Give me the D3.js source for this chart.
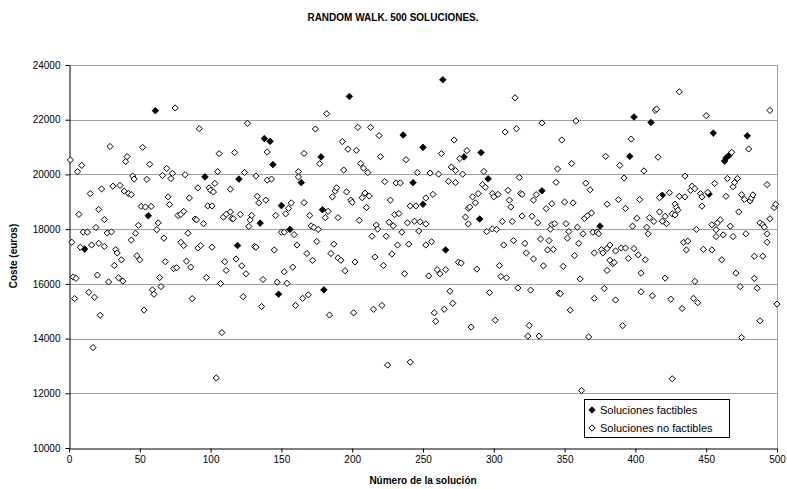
<!DOCTYPE html>
<html>
<head>
<meta charset="utf-8">
<script src="https://cdn.jsdelivr.net/npm/d3@7"></script>
<style>
    body { margin: 0; background: #fff; }
    text { font-family: "Liberation Sans", Arial, sans-serif; }
</style>
</head>
<body>
<svg id="chart" width="787" height="489"></svg>
<script>
// soluciones factibles: [numero de solucion, coste]
var factibles = [
    [11,17270],[56,18490],[61,22330],[96,19910],[119,17400],[120,19830],[135,18220],[138,21310],[142,21210],[144,20360],
    [148,15620],[150,18860],[156,17990],[164,19700],[178,20640],[179,18710],[180,15780],[198,22850],[236,21440],[243,19700],
    [250,20990],[250,18910],[264,23460],[266,17240],[279,20640],[290,18370],[291,20800],[296,19840],[334,19400],[375,18110],
    [396,20660],[399,22100],[411,21900],[419,19240],[452,19280],[455,21510],[463,20490],[464,20600],[466,20690],[479,21410]
];

// soluciones no factibles: [numero de solucion, coste]
var noFactibles = [
    [1,20530],[2,17520],[3,16250],[4,15460],[5,16200],[6,20100],[7,18540],[8,17340],[9,20330],[10,17890],
    [13,17890],[14,15690],[15,19300],[16,17420],[17,13670],[18,15510],[19,18060],[20,16320],[21,18720],[21,17480],
    [22,14850],[23,19470],[25,18350],[25,17370],[27,17860],[28,16070],[29,21020],[30,17900],[31,19570],[32,16670],
    [33,17250],[34,17130],[35,16220],[36,19600],[37,16880],[38,16100],[39,19390],[40,20470],[41,20650],[42,19300],
    [44,19260],[44,17600],[45,19940],[46,19830],[47,17850],[48,17030],[49,18140],[50,16880],[51,18830],[52,20990],
    [53,15040],[54,18810],[55,19820],[57,20370],[58,18830],[59,15780],[60,15620],[62,17980],[63,18230],[64,16230],
    [65,15900],[66,19960],[67,17670],[68,16810],[69,20220],[70,19180],[71,18900],[72,19850],[73,20040],[74,16560],
    [75,22430],[76,16590],[77,18500],[79,18540],[79,17520],[81,18650],[81,17400],[82,19990],[83,16830],[84,17850],
    [85,19140],[86,16610],[87,15460],[89,18370],[90,18340],[91,19510],[91,17310],[92,21670],[93,17400],[95,18200],
    [97,16230],[98,18850],[99,19510],[100,19420],[101,18850],[101,17340],[102,19360],[103,19670],[104,12560],[105,20100],
    [106,20760],[107,16010],[108,14220],[109,18440],[110,16810],[111,18540],[111,16490],[114,19460],[114,18630],[115,18390],
    [116,18380],[117,20800],[118,16910],[121,18540],[122,16660],[123,15530],[124,20070],[125,16370],[126,21870],[127,18100],
    [128,18340],[129,18500],[131,17370],[132,19940],[132,17340],[133,19200],[134,18960],[136,15170],[137,16160],[139,19060],
    [140,20820],[140,19790],[143,19830],[145,17240],[146,18500],[147,16060],[150,17890],[152,17890],[152,16440],[153,18560],
    [154,16020],[155,18760],[157,18960],[158,16610],[159,17800],[160,15210],[161,17420],[162,20100],[162,19910],[165,15470],
    [166,20770],[166,18970],[168,17110],[169,15600],[170,18500],[171,18120],[172,16860],[173,18060],[174,21660],[175,17550],
    [176,17990],[177,20390],[181,18420],[182,22220],[183,18650],[184,14860],[185,17110],[186,19180],[187,17450],[188,19390],
    [189,19510],[190,18420],[190,16950],[192,16860],[193,21200],[194,20160],[195,16480],[196,19360],[197,20920],[199,19060],
    [200,18980],[201,14940],[202,16800],[203,20880],[204,21720],[205,18320],[206,20400],[207,19150],[208,20230],[209,19320],
    [210,18790],[211,20070],[212,19210],[213,21720],[214,17740],[215,15070],[216,16980],[217,18150],[218,18000],[219,21420],
    [220,20650],[221,15210],[222,16670],[223,19740],[224,17740],[225,13030],[226,18250],[227,19060],[228,17090],[229,18120],
    [230,18530],[231,19690],[232,17420],[233,18570],[234,19690],[235,17890],[237,16370],[238,20540],[239,18230],[240,17450],
    [241,18850],[241,13140],[244,18290],[245,18850],[246,20070],[247,17930],[248,18270],[252,19140],[252,18190],[252,17420],
    [254,16290],[255,20050],[256,17540],[257,19270],[258,14940],[259,14630],[260,16520],[261,20010],[262,16370],[263,20760],
    [265,15070],[266,16520],[268,19750],[269,15730],[270,20270],[271,15290],[272,21260],[273,20140],[273,19700],[275,16790],
    [276,20580],[277,16760],[278,20010],[280,18440],[281,20870],[282,18190],[282,18760],[283,18810],[284,14420],[285,19180],
    [287,18960],[288,16540],[289,19300],[292,19630],[293,20110],[294,19530],[295,17910],[297,15680],[299,19300],[299,18010],
    [300,19180],[301,14670],[302,17990],[303,19270],[304,16670],[305,16270],[306,18280],[307,17420],[308,21550],[309,16220],
    [310,19420],[311,19060],[312,18810],[313,18280],[314,17580],[315,22800],[316,21670],[317,15850],[318,19890],[319,19300],
    [320,19270],[320,18480],[322,17480],[323,17130],[324,14090],[325,14480],[326,15770],[327,18470],[328,19060],[328,16910],
    [330,19260],[331,18230],[332,14090],[333,17640],[334,21880],[335,16660],[337,18750],[338,17240],[339,17580],[340,18000],
    [341,18930],[341,18170],[342,17260],[343,18200],[344,19710],[345,20200],[346,15660],[347,15640],[348,21260],[349,16640],
    [350,18990],[351,18200],[352,17670],[353,17910],[354,15040],[355,20400],[356,18960],[357,17030],[358,21950],[359,18070],
    [360,17480],[361,16180],[362,12100],[363,17830],[364,18390],[365,19680],[366,18490],[367,14060],[368,19440],[369,18590],
    [370,17890],[371,17130],[371,15470],[373,17890],[374,17830],[376,17250],[377,17130],[378,15830],[379,20660],[380,18910],
    [380,17290],[380,16490],[382,17420],[382,16860],[384,16740],[385,16780],[386,17200],[386,15410],[388,19080],[389,20330],
    [390,17310],[391,14470],[392,19870],[393,18760],[393,17310],[395,16930],[397,21290],[398,18110],[399,17290],[401,18400],
    [402,17060],[403,19080],[404,16390],[404,15710],[406,20130],[407,16880],[408,18070],[409,17830],[410,18420],[412,15560],
    [413,18280],[414,22340],[415,22390],[416,20630],[417,19150],[417,18630],[419,18290],[421,18470],[421,16210],[422,18200],
    [424,19330],[425,15440],[426,18560],[426,12530],[428,18520],[428,18910],[429,18790],[430,18690],[431,23020],[431,19200],
    [433,15100],[434,17520],[435,19940],[435,19180],[436,17240],[437,17560],[439,19420],[440,19570],[441,15470],[442,19480],
    [442,16090],[443,17990],[444,15310],[446,19300],[447,19180],[447,18840],[448,17260],[450,22150],[451,19350],[454,18160],
    [454,17240],[456,19670],[457,17980],[457,17730],[458,18230],[460,18340],[461,16880],[462,17790],[464,19200],[465,19850],
    [467,18110],[468,20810],[469,19550],[469,17730],[470,19700],[471,16390],[472,19850],[473,18630],[474,15900],[475,19260],
    [475,14040],[477,19090],[478,17830],[480,20930],[481,19030],[482,19140],[483,19250],[484,17010],[484,16200],[486,15840],
    [488,18230],[488,14650],[490,18160],[490,17010],[491,18070],[493,19630],[493,17830],[493,17520],[495,22340],[495,18380],
    [498,18790],[499,18910],[500,15260]
];

var xTicks = [0, 50, 100, 150, 200, 250, 300, 350, 400, 450, 500];
var yTicks = [10000, 12000, 14000, 16000, 18000, 20000, 22000, 24000];

var svg = d3.select("#chart");
var plot = {left: 69, right: 777, top: 65, bottom: 448};

var xScale = d3.scaleLinear().domain([0, 500]).range([plot.left, plot.right]);
var yScale = d3.scaleLinear().domain([10000, 24000]).range([plot.bottom, plot.top]);

// diamond marker
function diamond(r) {
    return "M0," + (-r) + "L" + r + ",0L0," + r + "L" + (-r) + ",0Z";
}

// title
svg.append("text")
    .attr("x", 393).attr("y", 21)
    .attr("text-anchor", "middle")
    .style("font-size", "10px").style("font-weight", "bold")
    .text("RANDOM WALK. 500 SOLUCIONES.");

// gridlines
svg.append("g").attr("class", "grid")
    .selectAll("line")
    .data(yTicks.slice(1))
    .enter()
    .append("line")
    .attr("x1", plot.left).attr("x2", plot.right)
    .attr("y1", function (d) { return Math.round(yScale(d)) + 0.5; })
    .attr("y2", function (d) { return Math.round(yScale(d)) + 0.5; })
    .style("stroke", "#a0a0a0").style("stroke-width", 1);

// right border of plot area
svg.append("line")
    .attr("x1", plot.right + 0.5).attr("x2", plot.right + 0.5)
    .attr("y1", plot.top).attr("y2", plot.bottom)
    .style("stroke", "#a0a0a0");

// axes
var xAxisG = svg.append("g")
    .attr("class", "xAxisG")
    .attr("transform", "translate(0," + (plot.bottom + 0.5) + ")")
    .call(d3.axisBottom(xScale).tickValues(xTicks).tickSize(4).tickSizeOuter(0).tickPadding(3));

var yAxisG = svg.append("g")
    .attr("class", "yAxisG")
    .attr("transform", "translate(" + (plot.left + 0.5) + ",0)")
    .call(d3.axisLeft(yScale).tickValues(yTicks).tickSize(4).tickSizeOuter(0).tickPadding(5).tickFormat(d3.format("d")));

svg.selectAll(".xAxisG path, .yAxisG path, .xAxisG line, .yAxisG line").style("stroke", "#000");
svg.selectAll(".xAxisG text, .yAxisG text")
    .style("font-size", "10px")
    .style("font-family", "'Liberation Sans', Arial, sans-serif")
    .style("fill", "#000");

// axis titles
svg.append("text")
    .attr("x", 423).attr("y", 484)
    .attr("text-anchor", "middle")
    .style("font-size", "10px").style("font-weight", "bold")
    .text("Número de la solución");

svg.append("text")
    .attr("transform", "translate(17," + 256 + ") rotate(-90)")
    .attr("text-anchor", "middle")
    .style("font-size", "10px").style("font-weight", "bold")
    .text("Coste (euros)");

// points
svg.append("g").attr("class", "factibles")
    .selectAll("path")
    .data(factibles)
    .enter()
    .append("path")
    .attr("d", diamond(3.3))
    .attr("transform", function (d) { return "translate(" + xScale(d[0]) + "," + yScale(d[1]) + ")"; })
    .style("fill", "#000").style("stroke", "#000").style("stroke-width", 0.8);

svg.append("g").attr("class", "noFactibles")
    .selectAll("path")
    .data(noFactibles)
    .enter()
    .append("path")
    .attr("d", diamond(3.1))
    .attr("transform", function (d) { return "translate(" + xScale(d[0]) + "," + yScale(d[1]) + ")"; })
    .style("fill", "#fff").style("stroke", "#000").style("stroke-width", 1);

// legend
var legend = svg.append("g").attr("transform", "translate(584,399)");
legend.append("rect")
    .attr("x", 0.5).attr("y", 0.5)
    .attr("width", 145).attr("height", 38)
    .style("fill", "#fff").style("stroke", "#000");

var legendItems = ["Soluciones factibles", "Soluciones no factibles"];
legend.selectAll("path")
    .data(legendItems)
    .enter()
    .append("path")
    .attr("d", diamond(3.2))
    .attr("transform", function (d, i) { return "translate(8," + (11 + i * 18) + ")"; })
    .style("fill", function (d, i) { return i === 0 ? "#000" : "#fff"; })
    .style("stroke", "#000");

legend.selectAll("text")
    .data(legendItems)
    .enter()
    .append("text")
    .attr("x", 16)
    .attr("y", function (d, i) { return 15 + i * 18; })
    .style("font-size", "11px")
    .text(function (d) { return d; });
</script>
</body>
</html>
